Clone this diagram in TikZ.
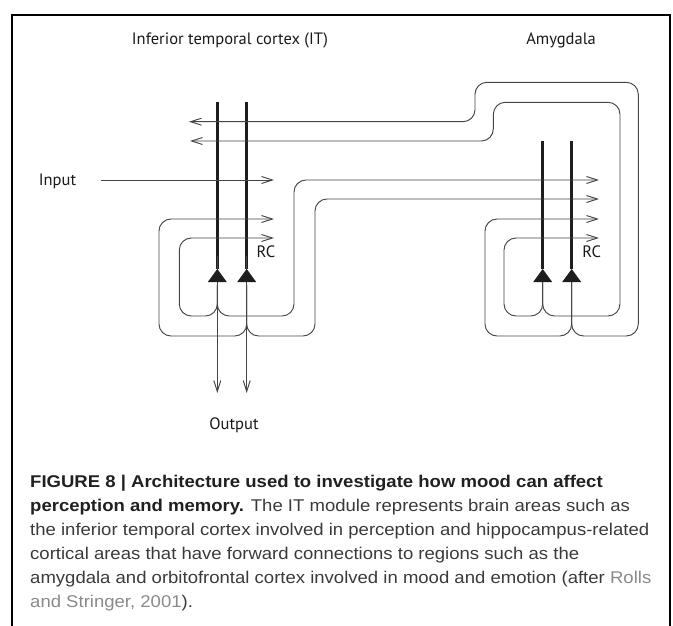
\documentclass[tikz,border=0pt]{standalone}
\usepackage{fontspec}
\setmainfont{PT Sans}
\newfontfamily\capfont{Liberation Sans}[FakeStretch=1.09]
\usetikzlibrary{arrows.meta}
\definecolor{wire}{HTML}{454545}
\definecolor{axon}{HTML}{1E1E1E}
\definecolor{captext}{HTML}{3A3A3A}
\definecolor{caphead}{HTML}{231F20}
\definecolor{citelink}{HTML}{8A8A8A}
\tikzset{
  wire/.style={draw=wire, line width=0.95pt, rounded corners=12pt},
  fibre/.style={wire, -{Straight Barb[length=11pt,width=7pt]}},
  dendrite/.style={draw=axon, line width=3pt},
  soma/.style={fill=axon},
  lbl/.style={font=\fontsize{16.5}{19}\selectfont, text=black!90, inner sep=0pt, anchor=base},
  capline/.style={font=\capfont\fontsize{17}{20}\selectfont, text=captext, inner sep=0pt, anchor=base west},
}
\newcommand{\capbold}[1]{{\bfseries\color{caphead}#1}}
\begin{document}
\begin{tikzpicture}[x=1pt,y=-1pt]
\useasboundingbox (0,0) rectangle (673,625);
% panel frame (open at the bottom edge)
\draw[line width=1.3pt] (12,640) -- (12,15) -- (670,15) -- (670,640);

% area and signal labels
\node[lbl] (itlabel)  at (230,44.3)  {Inferior temporal cortex (IT)};
\node[lbl] (amylabel) at (561,44.3)  {Amygdala};
\node[lbl] (inlabel)  at (57.5,185)  {Input};
\node[lbl] (outlabel) at (234,429)   {Output};
\node[lbl] (rcit)     at (266,257.5) {RC};
\node[lbl] (rcamy)    at (591.7,257.5) {RC};

% cell bodies (apex of each triangle)
\coordinate (it1)  at (217.3,269);
\coordinate (it2)  at (246.7,269);
\coordinate (amy1) at (542.7,269);
\coordinate (amy2) at (571.7,269);

% output ends of the IT axons
\coordinate (out1) at (217.3,393);
\coordinate (out2) at (246.7,393);

% dendrites
\draw[dendrite] (217.3,102) -- (it1);
\draw[dendrite] (246.7,102) -- (it2);
\draw[dendrite] (542.7,141) -- (amy1);
\draw[dendrite] (571.7,141) -- (amy2);

% external input
\coordinate (instart) at (100.7,180);
\draw[fibre] (instart) -- (274,180);

% IT axons to the output
\draw[fibre] ([yshift=13pt]it1) -- (out1);
\draw[fibre] ([yshift=13pt]it2) -- (out2);

% IT cell 1: recurrent collateral and forward projection
\draw[fibre] (217.3,285) -- (217.3,316) -- (179.3,316) -- (179.3,238) -- (274,238);
\draw[fibre] (217.3,285) -- (217.3,316) -- (294,316) -- (294,180) -- (599,180);
% IT cell 2: recurrent collateral and forward projection
\draw[fibre] (246.7,285) -- (246.7,336) -- (159,336) -- (159,219) -- (274,219);
\draw[fibre] (246.7,285) -- (246.7,336) -- (315,336) -- (315,199) -- (599,199);

% amygdala cell 1: recurrent collateral and back projection
\draw[fibre] (542.7,282) -- (542.7,316) -- (504,316) -- (504,238) -- (599,238);
\draw[fibre] (542.7,282) -- (542.7,316) -- (620,316) -- (620,102.3)
             -- (493.3,102.3) -- (493.3,141) -- (190,141);
% amygdala cell 2: recurrent collateral and back projection
\draw[fibre] (571.7,282) -- (571.7,336) -- (485,336) -- (485,219) -- (599,219);
\draw[fibre] (571.7,282) -- (571.7,336) -- (638.3,336) -- (638.3,82.3)
             -- (475,82.3) -- (475,121.7) -- (189,121.7);

% somata drawn over the fibres
\foreach \c in {it1,it2,amy1,amy2}
  \fill[soma] (\c) -- ++(9.5,13) -- ++(-19,0) -- cycle;

% caption
\node[capline] (cap1) at (30,487.7) {\capbold{FIGURE 8 | Architecture used to investigate how mood can affect}};
\node[capline] (cap2) at (30,511.6) {\capbold{perception and memory.} The IT module represents brain areas such as};
\node[capline] (cap3) at (30,535.4) {the inferior temporal cortex involved in perception and hippocampus-related};
\node[capline] (cap4) at (30,559.3) {cortical areas that have forward connections to regions such as the};
\node[capline] (cap5) at (30,583.2) {amygdala and orbitofrontal cortex involved in mood and emotion (after {\color{citelink}Rolls}};
\node[capline] (cap6) at (30,607)   {{\color{citelink}and Stringer, 2001}).};
\end{tikzpicture}
\end{document}
